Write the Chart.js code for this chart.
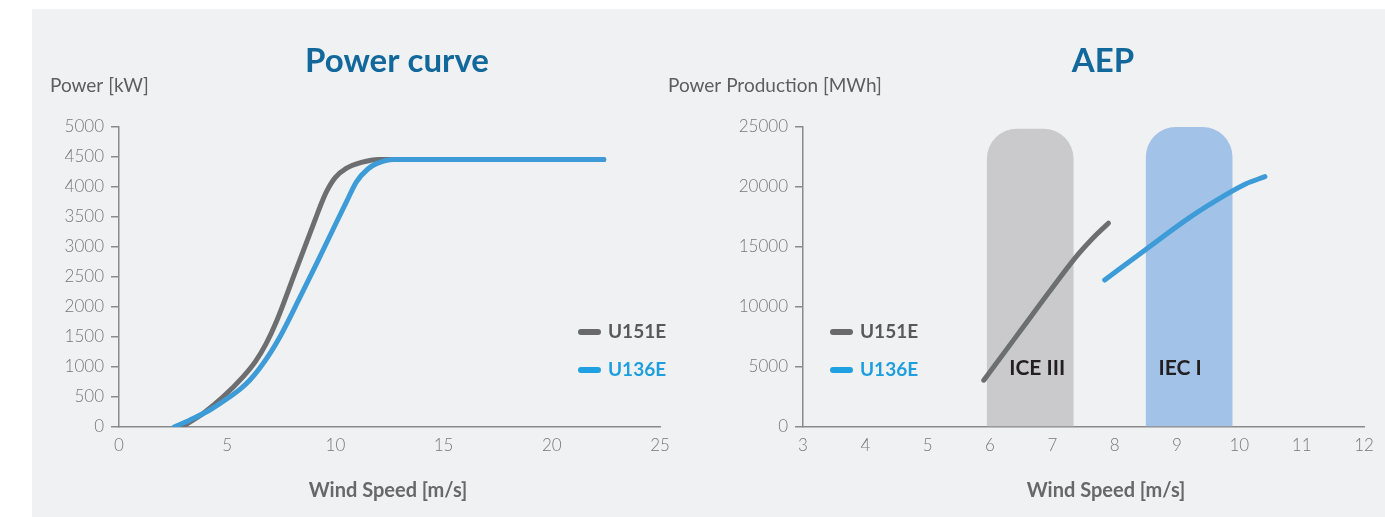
<!DOCTYPE html>
<html lang="en">
<head>
<meta charset="UTF-8">
<title>Power curve / AEP</title>
<script src="https://cdn.jsdelivr.net/npm/chart.js"></script>
<style>
  body { margin: 0; background: #fff; }
  .page { position: relative; width: 1385px; height: 517px; overflow: hidden; }
  .panel { position: absolute; left: 32px; top: 9px; width: 1353px; height: 508px; background: #f0f1f3; }
  #powerCurve { position: absolute; left: 32px; top: 9px; }
  #aep { position: absolute; left: 660px; top: 9px; }
</style>
</head>
<body>
<div class="page">
  <div class="panel"></div>
  <canvas id="powerCurve" width="660" height="508"></canvas>
  <canvas id="aep" width="725" height="508"></canvas>
</div>

<script>
  // --- data ---
  const seriesNames = ['U151E', 'U136E'];

  // power curve: wind speed [m/s] -> power [kW]
  const pcWindU151  = [2.9, 3.9, 4.82, 5.74, 6.3, 6.8, 7.3, 8.1, 9.1, 9.3, 9.6, 10.0, 10.5, 11.2, 12.0, 22.4];
  const pcPowerU151 = [0, 230, 505, 840, 1090, 1390, 1780, 2540, 3490, 3680, 3930, 4160, 4310, 4410, 4460, 4460];
  const pcWindU136  = [2.55, 3.28, 4.2, 5.13, 5.6, 6.05, 6.5, 6.98, 7.44, 8.36, 9.14, 9.9, 10.52, 10.98, 11.5, 11.9, 12.7, 22.4];
  const pcPowerU136 = [0, 117, 283, 505, 630, 783, 980, 1228, 1505, 2160, 2730, 3300, 3760, 4090, 4300, 4390, 4460, 4460];

  // AEP: mean wind speed [m/s] -> production [MWh]
  const aepWindU151 = [5.9, 6.5, 7.0, 7.4, 7.7, 7.9];
  const aepU151     = [3900, 8100, 11600, 14300, 16000, 16980];
  const aepWindU136 = [7.84, 8.5, 9.2, 9.8, 10.1, 10.41];
  const aepU136     = [12250, 14800, 17450, 19400, 20250, 20860];

  // wind class bands
  const bandLabels = ['ICE III', 'IEC I'];
  const bandFrom   = [5.95, 8.50];
  const bandTo     = [7.34, 9.89];
  const bandTop    = [24850, 25000];

  // tick labels
  const pcTicksX  = [0, 5, 10, 15, 20, 25];
  const pcTicksY  = [0, 500, 1000, 1500, 2000, 2500, 3000, 3500, 4000, 4500, 5000];
  const aepTicksX = [3, 4, 5, 6, 7, 8, 9, 10, 11, 12];
  const aepTicksY = [0, 5000, 10000, 15000, 20000, 25000];

  // --- colours ---
  const GRAY = '#6d6e70';
  const BLUE = '#3d9bd7';
  const AXIS = '#8a8a8a';
  const TICK = '#77787a';
  const FONT = 'Lato, "Open Sans", sans-serif';

  const pairs = (xs, ys) => xs.map((x, i) => ({ x: x, y: ys[i] }));

  const lineStyle = {
    type: 'line',
    borderWidth: 5,
    borderCapStyle: 'round',
    borderJoinStyle: 'round',
    pointRadius: 0,
    fill: false,
    cubicInterpolationMode: 'monotone'
  };

  // titles, axis captions, legend and band labels
  const captions = {
    id: 'captions',
    afterDatasetsDraw(chart, args, o) {
      const ctx = chart.ctx;
      ctx.save();
      ctx.textBaseline = 'middle';

      // band labels
      if (o.bands) {
        const meta = chart.getDatasetMeta(o.bands.dataset);
        const y = chart.scales.y.getPixelForValue(o.bands.at);
        ctx.font = 'bold 21px ' + FONT;
        ctx.fillStyle = '#231f20';
        ctx.textAlign = 'center';
        meta.data.forEach((bar, i) => ctx.fillText(o.bands.labels[i], bar.x + o.bands.dx[i], y));
      }

      // title
      ctx.font = 'bold 33px ' + FONT;
      ctx.fillStyle = '#12689a';
      ctx.textAlign = 'center';
      ctx.fillText(o.title, o.titleX, 52);

      // axis captions
      ctx.font = '19px ' + FONT;
      ctx.fillStyle = '#5d5e60';
      ctx.textAlign = 'left';
      ctx.fillText(o.yTitle, o.yTitleX, 77);
      ctx.font = 'bold 20px ' + FONT;
      ctx.fillStyle = '#67686a';
      ctx.textAlign = 'center';
      ctx.fillText(o.xTitle, o.xTitleX, 482);

      // legend
      let ly = o.legend.y;
      chart.data.datasets.filter(d => d.legendText).forEach(d => {
        ctx.strokeStyle = d.legendLine;
        ctx.lineWidth = 6;
        ctx.lineCap = 'round';
        ctx.beginPath();
        ctx.moveTo(o.legend.x + 3, ly);
        ctx.lineTo(o.legend.x + 20, ly);
        ctx.stroke();
        ctx.font = 'bold 19px ' + FONT;
        ctx.fillStyle = d.legendText;
        ctx.textAlign = 'left';
        ctx.fillText(d.label, o.legend.x + 30, ly);
        ly += o.legend.gap;
      });
      ctx.restore();
    }
  };

  function makeOptions(p) {
    const tickFont = { family: FONT, size: 17, weight: '300' };
    return {
      responsive: false,
      animation: false,
      events: [],
      layout: { padding: { top: 118, right: p.padRight, bottom: 0, left: 0 } },
      plugins: { legend: { display: false }, tooltip: { enabled: false }, captions: p.captions },
      scales: {
        x: {
          type: 'linear',
          offset: false,
          min: p.xTicks[0],
          max: p.xTicks[p.xTicks.length - 1],
          afterBuildTicks: s => { s.ticks = p.xTicks.map(v => ({ value: v })); },
          afterFit: s => { s.height = 90; },
          grid: { display: false, drawTicks: false, offset: false },
          border: { display: true, color: AXIS, width: 1.5 },
          ticks: { color: TICK, font: tickFont, padding: 8, maxRotation: 0, autoSkip: false, callback: v => String(v) }
        },
        y: {
          type: 'linear',
          min: p.yTicks[0],
          max: p.yTicks[p.yTicks.length - 1],
          afterBuildTicks: s => { s.ticks = p.yTicks.map(v => ({ value: v })); },
          afterFit: s => { s.width = p.yWidth; },
          grid: { drawOnChartArea: false, drawTicks: true, tickLength: 8, color: AXIS, lineWidth: 1.5 },
          border: { display: true, color: AXIS, width: 1.5 },
          ticks: { color: TICK, font: tickFont, padding: 7, autoSkip: false, callback: v => String(v) }
        }
      }
    };
  }

  // Power curve
  new Chart(document.getElementById('powerCurve'), {
    type: 'line',
    data: {
      datasets: [
        Object.assign({}, lineStyle, { label: seriesNames[0], data: pairs(pcWindU151, pcPowerU151),
          borderColor: GRAY, order: 2, legendLine: '#69696b', legendText: '#58595b' }),
        Object.assign({}, lineStyle, { label: seriesNames[1], data: pairs(pcWindU136, pcPowerU136),
          borderColor: BLUE, order: 1, legendLine: '#1fa0e0', legendText: '#1e9fdd' })
      ]
    },
    plugins: [captions],
    options: makeOptions({
      xTicks: pcTicksX, yTicks: pcTicksY, yWidth: 87, padRight: 32,
      captions: {
        title: 'Power curve', titleX: 365,
        yTitle: 'Power [kW]', yTitleX: 18,
        xTitle: 'Wind Speed [m/s]', xTitleX: 356,
        legend: { x: 546, y: 323, gap: 38 }
      }
    })
  });

  // AEP
  new Chart(document.getElementById('aep'), {
    type: 'line',
    data: {
      datasets: [
        Object.assign({}, lineStyle, { label: seriesNames[0], data: pairs(aepWindU151, aepU151),
          borderColor: GRAY, order: 1, legendLine: '#69696b', legendText: '#58595b' }),
        Object.assign({}, lineStyle, { label: seriesNames[1], data: pairs(aepWindU136, aepU136),
          borderColor: BLUE, order: 1, legendLine: '#1fa0e0', legendText: '#1e9fdd' }),
        {
          type: 'bar',
          label: 'wind class',
          data: pairs(bandFrom.map((f, i) => (f + bandTo[i]) / 2), bandTop),
          backgroundColor: ['#cacacc', '#a2c2e7'],
          borderWidth: 0,
          borderRadius: { topLeft: 30, topRight: 30 },
          borderSkipped: 'start',
          categoryPercentage: 1,
          // the bar ruler is one tick step (1 m/s) wide, so this is the band width
          barPercentage: bandTo[0] - bandFrom[0],
          order: 3
        }
      ]
    },
    plugins: [captions],
    options: makeOptions({
      xTicks: aepTicksX, yTicks: aepTicksY, yWidth: 143, padRight: 21,
      captions: {
        title: 'AEP', titleX: 443,
        yTitle: 'Power Production [MWh]', yTitleX: 8,
        xTitle: 'Wind Speed [m/s]', xTitleX: 446,
        legend: { x: 170, y: 323, gap: 38 },
        bands: { dataset: 2, labels: bandLabels, at: 4900, dx: [7, -9] }
      }
    })
  });
</script>
</body>
</html>
